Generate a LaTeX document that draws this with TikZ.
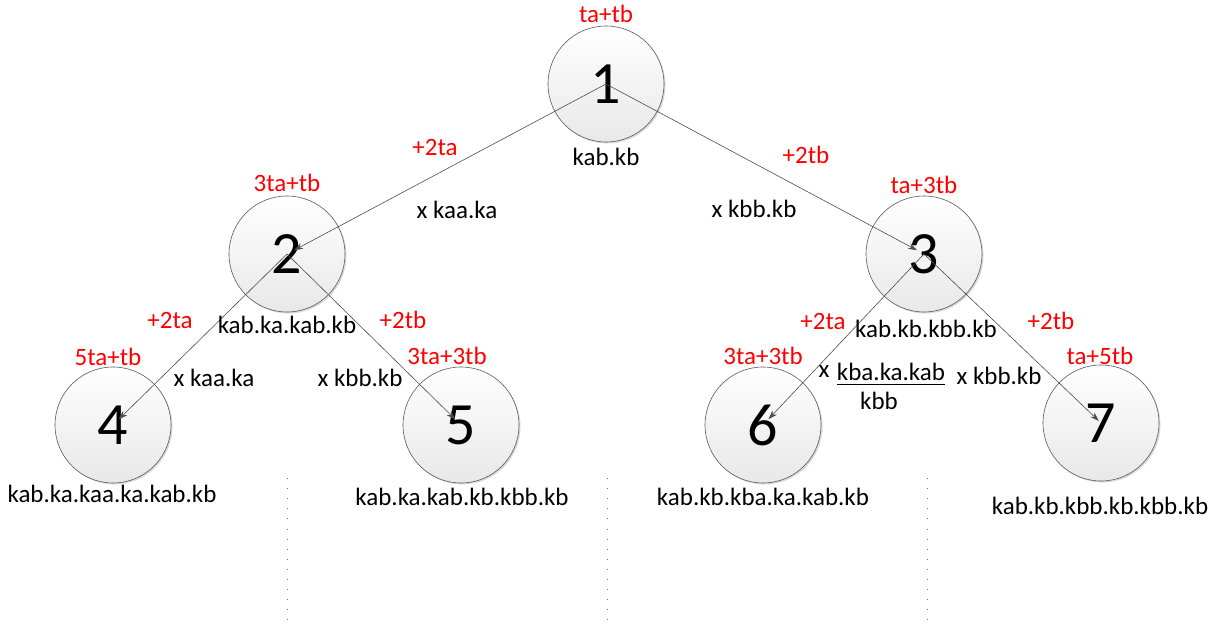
\documentclass[tikz,border=0pt]{standalone}
\usepackage{fontspec}
\setmainfont{Carlito}
\usetikzlibrary{arrows.meta,shadows}
\tikzset{
  state/.style={circle, draw=black!65, line width=0.6pt, minimum size=116pt, inner sep=0pt,
    top color=white, bottom color=black!9,
    drop shadow={shadow xshift=1.5pt, shadow yshift=-1.5pt, opacity=0.25, fill=black!60},
    font=\fontsize{60}{60}\selectfont},
  lbl/.style={inner sep=0pt, font=\fontsize{25}{29}\selectfont},
  cost/.style={lbl, text=red},
  edge/.style={draw=black!70, line width=0.6pt, -{Stealth[length=9pt,width=6pt]}, shorten >=8pt},
  dotline/.style={draw=black!55, line width=0.9pt, dash pattern=on 0.9pt off 9.2pt}
}
\begin{document}
\begin{tikzpicture}[x=1pt,y=-1pt]
\useasboundingbox (0,0) rectangle (1216,624);
% nodes
\node[state] (n1) at (606,84) {1};
\node[state] (n2) at (287,254) {2};
\node[state] (n3) at (924,254) {3};
\node[state] (n4) at (113,425) {4};
\node[state] (n5) at (461,425) {5};
\node[state] (n6) at (763,425) {6};
\node[state] (n7) at (1101,423) {7};
% edges
\draw[edge] (n1.center) -- (n2.center);
\draw[edge] (n1.center) -- (n3.center);
\draw[edge] (n2.center) -- (n4.center);
\draw[edge] (n2.center) -- (n5.center);
\draw[edge] (n3.center) -- (n6.center);
\draw[edge,shorten >=3pt] (n3.center) -- (n7.center);
% cost labels
\node[cost] (c1) at (606,14) {ta+tb};
\node[cost] (c2) at (287,183) {3ta+tb};
\node[cost] (c3) at (924,185) {ta+3tb};
\node[cost] (c4) at (108,357) {5ta+tb};
\node[cost] (c5) at (447,356) {3ta+3tb};
\node[cost] (c6) at (763,356) {3ta+3tb};
\node[cost] (c7) at (1100,356) {ta+5tb};
\node[cost] (e12) at (435,147) {+2ta};
\node[cost] (e13) at (806,155) {+2tb};
\node[cost] (e24) at (170,320) {+2ta};
\node[cost] (e25) at (403,320) {+2tb};
\node[cost] (e36) at (823,321) {+2ta};
\node[cost] (e37) at (1051,321) {+2tb};
% state labels
\node[lbl] (s1) at (606,157) {kab.kb};
\node[lbl] (s2) at (287,325) {kab.ka.kab.kb};
\node[lbl] (s3) at (926,329) {kab.kb.kbb.kb};
\node[lbl] (s4) at (112,494) {kab.ka.kaa.ka.kab.kb};
\node[lbl] (s5) at (462,497) {kab.ka.kab.kb.kbb.kb};
\node[lbl] (s6) at (763,497) {kab.kb.kba.ka.kab.kb};
\node[lbl] (s7) at (1100,506) {kab.kb.kbb.kb.kbb.kb};
% multipliers
\node[lbl] (m12) at (457,210) {x kaa.ka};
\node[lbl] (m13) at (754,209) {x kbb.kb};
\node[lbl] (m24) at (214,378) {x kaa.ka};
\node[lbl] (m25) at (360,378) {x kbb.kb};
\node[lbl] (m37) at (999,376) {x kbb.kb};
\node[lbl] (m36x) at (824,372) {x};
\node[lbl] (m36n) at (891,372) {kba.ka.kab};
\draw[black, line width=0.9pt] (m36n.south west) ++(0,3) coordinate (u1) -- (m36n.south east |- u1) coordinate (u2);
\node[lbl] (m36d) at (879,401) {kbb};
% dotted separators
\coordinate (d1a) at (287,478); \coordinate (d1b) at (287,622);
\coordinate (d2a) at (607,478); \coordinate (d2b) at (607,622);
\coordinate (d3a) at (927,478); \coordinate (d3b) at (927,622);
\draw[dotline] (d1a) -- (d1b);
\draw[dotline] (d2a) -- (d2b);
\draw[dotline] (d3a) -- (d3b);
\end{tikzpicture}
\end{document}
